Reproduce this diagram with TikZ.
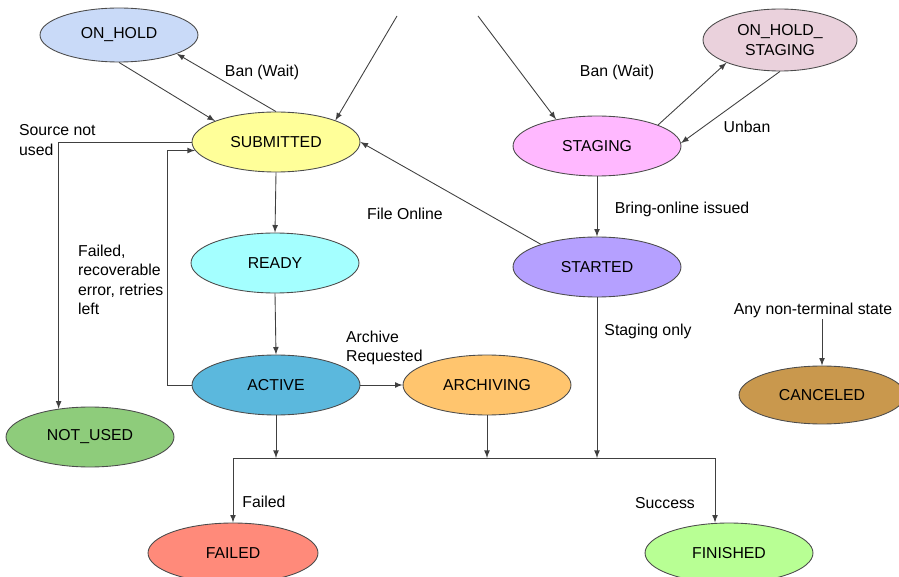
\documentclass[tikz,border=0pt]{standalone}
\usepackage{fontspec}
\setmainfont{Liberation Sans}
\usetikzlibrary{shapes.geometric}
\definecolor{onholdblue}{HTML}{C9DAF8}
\definecolor{submittedyellow}{HTML}{FFFF99}
\definecolor{stagingpink}{HTML}{FFB8FF}
\definecolor{onholdstagingpink}{HTML}{EAD1DC}
\definecolor{readycyan}{HTML}{A4FFFF}
\definecolor{startedviolet}{HTML}{B5A0FF}
\definecolor{activeblue}{HTML}{5BB8DD}
\definecolor{archivingorange}{HTML}{FFC56E}
\definecolor{canceledbrown}{HTML}{C9984D}
\definecolor{notusedgreen}{HTML}{8ECC7B}
\definecolor{failedred}{HTML}{FF8A7A}
\definecolor{finishedgreen}{HTML}{B8FF94}
\tikzset{
  jobstate/.style = {
    ellipse, draw=black!70, line width=0.5pt, inner sep=0pt,
    minimum width=3.36cm, minimum height=1.2cm,
    font=\fontsize{9}{11}\selectfont, align=center
  },
  edgelabel/.style = {font=\fontsize{9}{11}\selectfont, inner sep=1pt},
  flow/.style = {->, draw=black!75, line width=0.5pt}
}
\tikzset{>=latex}

\begin{document}
\begin{tikzpicture}[x=0.02cm,y=-0.02cm]
  \useasboundingbox (0,0) rectangle (899,577);
  % states
  \node[jobstate,fill=onholdblue,minimum width=3.16cm,minimum height=1.08cm] (onhold) at (119,35) {ON\_HOLD};
  \node[jobstate,fill=submittedyellow] (submitted) at (276,142) {SUBMITTED};
  \node[jobstate,fill=stagingpink] (staging) at (597,146) {STAGING};
  \node[jobstate,fill=onholdstagingpink,minimum width=3.08cm,minimum height=1.24cm] (onholdstaging) at (780,40) {ON\_HOLD\_\\STAGING};
  \node[jobstate,fill=readycyan] (ready) at (275,263) {READY};
  \node[jobstate,fill=startedviolet] (started) at (597,267) {STARTED};
  \node[jobstate,fill=activeblue] (active) at (276,385) {ACTIVE};
  \node[jobstate,fill=archivingorange] (archiving) at (487,385) {ARCHIVING};
  \node[jobstate,fill=canceledbrown,minimum width=3.32cm,minimum height=1.16cm] (canceled) at (822,395) {CANCELED};
  \node[jobstate,fill=notusedgreen] (notused) at (90,437) {NOT\_USED};
  \node[jobstate,fill=failedred,minimum width=3.4cm] (failed) at (233,553) {FAILED};
  \node[jobstate,fill=finishedgreen] (finished) at (729,553) {FINISHED};
  % labels
  \node[edgelabel] (banleft) at (262,72) {Ban (Wait)};
  \node[edgelabel] (banright) at (617,72) {Ban (Wait)};
  \node[edgelabel] (unban) at (747,127) {Unban};
  \node[edgelabel,align=left,anchor=west] (sourcenotused) at (17,140) {Source not\\used};
  \node[edgelabel] (fileonline) at (405,214) {File Online};
  \node[edgelabel] (bringonline) at (682,209) {Bring-online issued};
  \node[edgelabel,align=left,anchor=west] (retries) at (76,280) {Failed,\\recoverable\\error, retries\\left};
  \node[edgelabel,align=left,anchor=west] (archivereq) at (344,348) {Archive\\Requested};
  \node[edgelabel] (stagingonly) at (648,331) {Staging only};
  \node[edgelabel] (anystate) at (813,310) {Any non-terminal state};
  \node[edgelabel] (failedlbl) at (264,502) {Failed};
  \node[edgelabel] (successlbl) at (665,503) {Success};
  % entry points and the joint bar
  \coordinate (entrysubmitted) at (397,16);
  \coordinate (entrystaging) at (478,16);
  \coordinate (busleft) at (233,458);
  \coordinate (busright) at (715,458);
  % transitions
  \draw[flow] (entrysubmitted) -- (submitted.20);
  \draw[flow] (entrystaging) -- (staging.147);
  \draw[flow] (onhold.south) -- (submitted.161);
  \draw[flow] (submitted.north) -- (onhold.-18);
  \draw[flow] (staging.19) -- (onholdstaging.203);
  \draw[flow] (onholdstaging.south) -- (staging.2);
  \draw[flow] (started.158) -- (submitted.east);
  \draw[flow] (submitted.south) -- (ready.north);
  \draw[flow] (staging.south) -- (started.north);
  \draw[flow] (ready.south) -- (active.north);
  \draw[flow] (active.east) -- (archiving.west);
  \draw[flow] (active.west) -- ++(-24,0) |- (submitted.186);
  \draw[flow] (submitted.west) -| (notused.138);
  \draw[flow] (active.south) -- (active.south |- busleft);
  \draw[flow] (archiving.south) -- (archiving.south |- busleft);
  \draw[flow] (started.south) -- (started.south |- busleft);
  \draw[draw=black!75,line width=0.5pt] (busleft) -- (busright);
  \draw[flow] (busleft) -- (failed.north);
  \draw[flow] (busright) -- (busright |- finished.north);
  \draw[flow] (anystate.south -| canceled.north) -- (canceled.north);
\end{tikzpicture}
\end{document}
